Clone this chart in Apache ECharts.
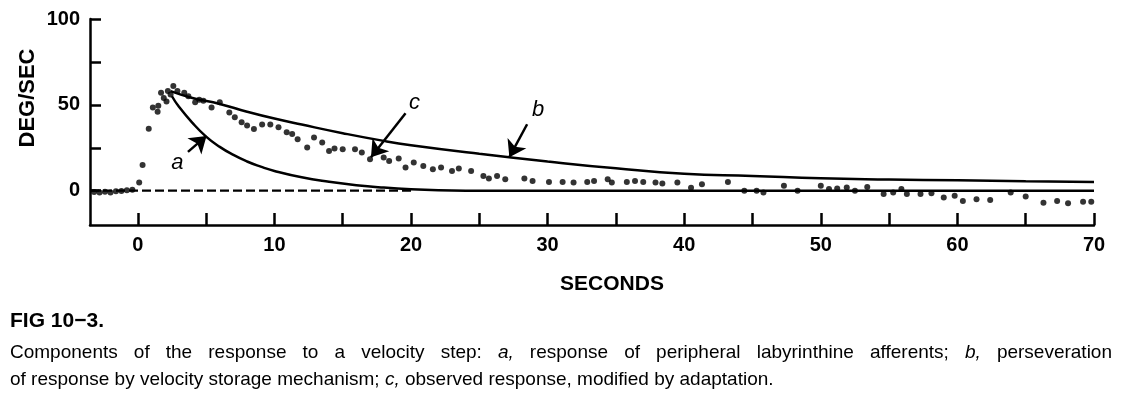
<!DOCTYPE html>
<html>
<head>
<meta charset="utf-8">
<script src="https://cdn.jsdelivr.net/npm/echarts@6/dist/echarts.min.js"></script>
<style>
  html, body { margin: 0; padding: 0; background: #fff; }
  #main { width: 1122px; height: 403px; }
</style>
</head>
<body>
<div id="main"></div>
<script>
const chart = echarts.init(document.getElementById("main"));

// ********
// * Data *
// ********

// Axis ticks / labels (seconds, deg/sec)
const xTicks = [0, 5, 10, 15, 20, 25, 30, 35, 40, 45, 50, 55, 60, 65, 70];
const xLabels = [0, 10, 20, 30, 40, 50, 60, 70];
const yTicks = [0, 25, 50, 75, 100];
const yLabels = [0, 50, 100];

// Curve a: response of peripheral labyrinthine afferents
const curveA = [
  [2.5, 55], [3, 49], [4, 39.5], [5, 31.5], [6, 25.5], [7, 20.8], [8, 17], [9, 14],
  [10, 11.5], [12, 7.8], [14, 5.2], [16, 3.2], [18, 1.8], [20, 0.8], [22, 0.2], [24, 0], [70, 0],
];

// Curve b: perseveration by velocity storage mechanism
const curveB = [
  [2.4, 58], [4, 54], [6, 50.5], [8, 46], [10, 42], [12, 38.5], [15, 33.5],
  [18, 29], [20, 26.5], [25, 21.5], [30, 17], [35, 13], [40, 9.8], [45, 8.6],
  [50, 7.2], [55, 6.5], [60, 6], [65, 5.5], [70, 5.1],
];

// Baseline drawn dashed before the step response settles
const zeroDashed = [[-3.5, 0], [20, 0]];

// Curve c: observed response (dots)
const observedC = [
  [-3.2, -0.8], [-2.8, -1], [-2.4, -0.6], [-2.0, -1], [-1.6, -0.4], [-1.2, -0.2], [-0.8, 0.2], [-0.4, 0.5],
  [0.1, 4.8], [0.35, 15], [0.8, 36], [1.1, 48.5], [1.45, 46], [1.5, 49.5], [1.7, 57], [1.9, 54],
  [2.1, 52], [2.2, 58], [2.4, 56], [2.6, 61], [2.9, 58], [3.4, 57], [3.7, 55], [4.2, 51.5],
  [4.5, 53], [4.8, 52.4], [5.4, 48.5], [6.0, 51.5], [6.7, 45.6], [7.1, 42.7], [7.6, 39.8],
  [8.0, 38], [8.5, 35.9], [9.1, 38.5], [9.7, 38.5], [10.3, 36.9], [10.9, 34], [11.3, 33],
  [11.7, 29.9], [12.4, 25.1], [12.9, 30.9], [13.5, 28], [14.0, 23.1], [14.4, 24.5], [15.0, 24.1],
  [15.9, 24.1], [16.4, 22.2], [17.0, 18.3], [18.0, 19.3], [18.4, 17.3], [19.1, 18.7], [19.6, 13.5],
  [20.2, 16.4], [20.9, 14.4], [21.6, 12.5], [22.2, 13.5], [23.0, 11.5], [23.5, 12.9], [24.4, 11.5],
  [25.3, 8.6], [25.7, 7.1], [26.3, 8.6], [26.9, 6.7], [28.3, 7.1], [28.9, 5.7], [30.1, 5.1],
  [31.1, 5.1], [31.9, 4.8], [32.9, 5.1], [33.4, 5.7], [34.4, 6.7], [34.7, 4.8], [35.8, 5.1],
  [36.4, 5.7], [37.0, 5.1], [37.9, 4.8], [38.4, 4.2], [39.5, 4.8], [40.5, 1.7], [41.3, 3.8],
  [43.2, 5.1], [44.4, 0], [45.3, 0], [45.8, -1], [47.3, 2.8], [48.3, 0], [50.0, 2.8],
  [50.6, 0.9], [51.2, 1.3], [51.9, 1.9], [52.5, 0], [53.4, 2.2], [54.6, -2], [55.3, -1],
  [55.9, 0.9], [56.3, -2], [57.3, -2], [58.1, -1.5], [59.0, -4], [59.8, -3], [60.4, -6],
  [61.4, -5], [62.4, -5.5], [63.9, -1], [65.0, -3.4], [66.3, -7], [67.3, -6], [68.1, -7.3],
  [69.2, -6.5], [69.8, -6.5],
];

// Annotation arrows [from, to] and letters, in data coordinates
const arrowA = [[3.67, 22.6], [5.03, 31.9]];
const arrowB = [[28.5, 38.7], [27.2, 19.5]];
const arrowC = [[19.6, 45.1], [17.07, 19.5]];
const letterPos = { a: [2.9, 16.3], b: [29.3, 46.8], c: [20.25, 50.9] };

// Caption text
const figTitle = "FIG 10\u22123.";
const captionLine1 = "Components of the response to a velocity step: *a*, response of peripheral labyrinthine afferents; *b*, perseveration";
const captionLine2 = "of response by velocity storage mechanism; *c*, observed response, modified by adaptation.";

// *************
// * Functions *
// *************

const FONT = "Liberation Sans";
const INK = "#000";
const CAPTION_SIZE = 19;

const measureCtx = document.createElement("canvas").getContext("2d");

// Words wrapped in *...* are italic
function wordFont(word) {
  return (word.includes("*") ? "italic " : "") + `${CAPTION_SIZE}px "${FONT}"`;
}

// Lay out one caption line word by word (justified if justifyTo is given)
function captionWords(line, x0, y, justifyTo) {
  const words = line.split(" ");
  const widths = words.map((w) => {
    measureCtx.font = wordFont(w);
    return measureCtx.measureText(w.replace(/\*/g, "")).width;
  });
  measureCtx.font = `${CAPTION_SIZE}px "${FONT}"`;
  let gap = measureCtx.measureText(" ").width;
  if (justifyTo) {
    const total = widths.reduce((s, w) => s + w, 0);
    gap = (justifyTo - x0 - total) / (words.length - 1);
  }
  const out = [];
  let x = x0;
  words.forEach((w, i) => {
    out.push({
      type: "text", x: x, y: y,
      style: { text: w.replace(/\*/g, ""), fill: INK, font: wordFont(w), align: "left", verticalAlign: "middle" },
    });
    x += widths[i] + gap;
  });
  return out;
}

const option = {
  animation: false,
  backgroundColor: "#fff",
  grid: { left: 90, right: 28, top: 19, bottom: 178 },
  xAxis: {
    type: "value",
    min: -3.5,
    max: 70,
    axisLine: { show: true, onZero: false, lineStyle: { color: INK, width: 2.5 } },
    axisTick: { show: true, inside: true, length: 12, customValues: xTicks, lineStyle: { color: INK, width: 2.5 } },
    axisLabel: {
      customValues: xLabels, margin: 10, color: INK,
      fontFamily: FONT, fontWeight: "bold", fontSize: 20,
    },
    splitLine: { show: false },
  },
  yAxis: {
    type: "value",
    min: -20,
    max: 100,
    axisLine: { show: true, onZero: false, lineStyle: { color: INK, width: 2.5 } },
    axisTick: { show: true, inside: true, length: 11, customValues: yTicks, lineStyle: { color: INK, width: 2.5 } },
    axisLabel: {
      customValues: yLabels, margin: 10, color: INK,
      fontFamily: FONT, fontWeight: "bold", fontSize: 20,
    },
    splitLine: { show: false },
  },
  series: [
    {
      name: "zero",
      type: "line",
      data: zeroDashed,
      symbol: "none",
      lineStyle: { color: INK, width: 2.2, type: [9, 4] },
      silent: true,
    },
    {
      name: "a",
      type: "line",
      data: curveA,
      symbol: "none",
      smooth: 0.5,
      lineStyle: { color: INK, width: 2.5 },
      silent: true,
    },
    {
      name: "b",
      type: "line",
      data: curveB,
      symbol: "none",
      smooth: 0.5,
      lineStyle: { color: INK, width: 2.5 },
      silent: true,
    },
    {
      name: "c",
      type: "scatter",
      data: observedC,
      symbol: "circle",
      symbolSize: 6,
      itemStyle: { color: INK },
      silent: true,
      markLine: {
        silent: true,
        symbol: ["none", "arrow"],
        symbolSize: 16,
        label: { show: false },
        lineStyle: { color: INK, width: 2.5, type: "solid" },
        data: [
          [{ coord: arrowA[0] }, { coord: arrowA[1] }],
          [{ coord: arrowB[0] }, { coord: arrowB[1] }],
          [{ coord: arrowC[0], lineStyle: { curveness: -0.25 } }, { coord: arrowC[1] }],
        ],
      },
      markPoint: {
        silent: true,
        symbol: "circle",
        symbolSize: 1,
        itemStyle: { color: "rgba(0,0,0,0)" },
        label: {
          show: true, position: "inside", formatter: "{b}", color: INK,
          fontFamily: FONT, fontStyle: "italic", fontSize: 22,
        },
        data: Object.keys(letterPos).map((k) => ({ name: k, coord: letterPos[k] })),
      },
    },
  ],
  graphic: [
    {
      type: "text", x: 28, y: 98, rotation: Math.PI / 2,
      style: { text: "DEG/SEC", fill: INK, font: `bold 22px "${FONT}"`, align: "center", verticalAlign: "middle" },
    },
    {
      type: "text", x: 612, y: 284,
      style: { text: "SECONDS", fill: INK, font: `bold 21px "${FONT}"`, align: "center", verticalAlign: "middle" },
    },
    {
      type: "text", x: 10, y: 321,
      style: { text: figTitle, fill: INK, font: `bold 21px "${FONT}"`, align: "left", verticalAlign: "middle" },
    },
    ...captionWords(captionLine1, 10, 353, 1112),
    ...captionWords(captionLine2, 10, 380, null),
  ],
};

chart.setOption(option);
</script>
</body>
</html>
